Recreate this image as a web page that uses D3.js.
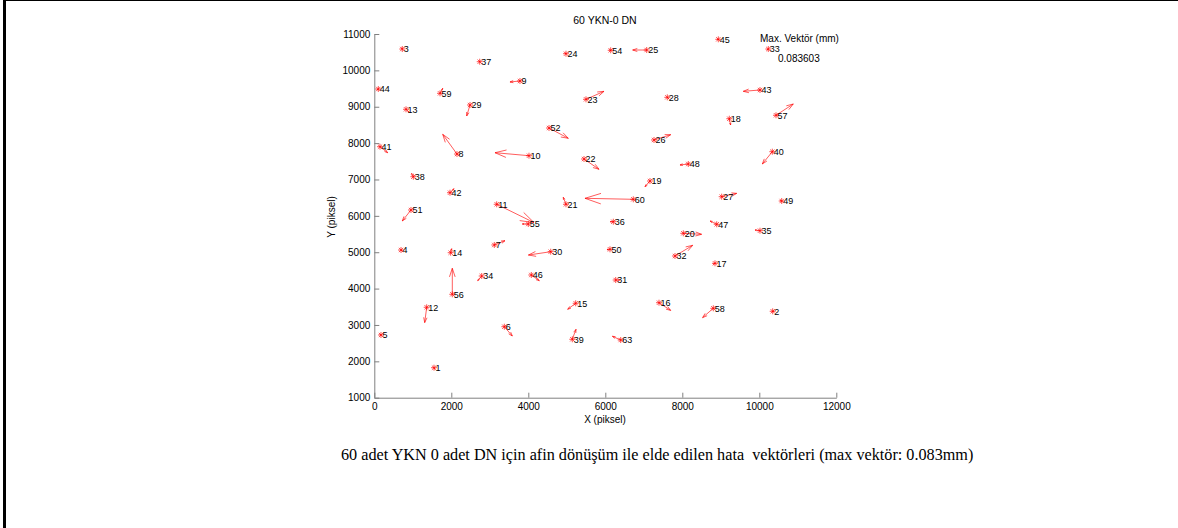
<!DOCTYPE html>
<html lang="en">
<head>
<meta charset="utf-8">
<title>60 YKN-0 DN</title>
<script src="https://cdnjs.cloudflare.com/ajax/libs/d3/7.8.5/d3.min.js"></script>
<style>
  body { margin: 0; background: #fff; }
  svg text { font-family: "Liberation Sans", Arial, sans-serif; }
</style>
</head>
<body>
<div id="chart"></div>
<script>
// point numbers, positions (piksel) and error vectors (drawn in plot units)
var ptId = [1,2,3,4,5,6,7,8,9,10,11,12,13,14,15,16,17,18,19,20,21,22,23,24,25,26,27,28,29,30,
            31,32,33,34,35,36,37,38,39,40,41,42,43,44,45,46,47,48,49,50,51,52,54,55,56,57,58,59,60,63];
var ptX = [1551,10348,727,694,174,3377,3117,2148,3784,4018,3179,1361,824,1984,5231,7395,8849,9221,7161,8026,
           4979,5447,5499,4979,7075,7265,9023,7610,2486,4582,6270,7810,10234,2790,10018,6208,2738,1013,5143,10338,
           148,1966,10018,104,8935,4078,8894,8156,10582,6122,953,4538,6140,4000,2026,10434,8805,1707,6727,6400];
var ptY = [1825,3376,10587,5061,2724,2952,5199,7700,9708,7654,6318,3486,8930,4987,3596,3612,4695,8671,6958,5520,
           6318,7563,9204,10458,10560,8086,6527,9259,9048,5014,4236,4896,10587,4346,5592,5839,10238,7076,2606,7764,
           7901,6636,9460,9488,10854,4374,5768,7426,6408,5080,6161,8415,10552,5776,3843,8765,3458,9369,6455,2586];
var vecU = [20,30,-20,30,-30,208,278,-371,-260,-883,969,-52,78,26,-208,304,-40,34,-130,475,
            -70,390,468,-30,-364,434,390,30,-86,-579,104,460,-30,-104,-130,-78,-20,-44,96,-260,
            200,104,-434,-30,-30,208,-174,-216,-40,-78,-226,501,-30,-156,0,449,-278,70,-1255,-216];
var vecV = [-40,0,30,-20,20,-256,118,542,-27,82,-503,-421,-82,110,-165,-212,-20,-173,-157,-27,
            192,-283,220,20,0,146,91,-30,-302,-91,0,294,-20,-129,19,0,20,91,275,-338,
            -165,110,-36,-20,0,-157,91,-27,10,-10,-302,-283,10,0,715,311,-256,137,27,102];

var xTicks = [0,2000,4000,6000,8000,10000,12000];
var yTicks = [1000,2000,3000,4000,5000,6000,7000,8000,9000,10000,11000];

var W = 1178, H = 528;
var svg = d3.select("#chart").append("svg")
    .attr("width", W).attr("height", H);

// outer frame (top and left edges only)
svg.append("line").attr("x1", 3).attr("x2", W).attr("y1", 0.5).attr("y2", 0.5)
    .attr("stroke", "#000").attr("stroke-width", 1);
svg.append("line").attr("x1", 4.5).attr("x2", 4.5).attr("y1", 0).attr("y2", H)
    .attr("stroke", "#000").attr("stroke-width", 3);

var x = d3.scaleLinear().domain([0, 12000]).range([374.3, 836.3]);
var y = d3.scaleLinear().domain([1000, 11000]).range([397.7, 34]);

// axes
var xAxis = d3.axisBottom(x).tickValues(xTicks).tickFormat(d3.format("d"))
    .tickSizeInner(-5).tickSizeOuter(0).tickPadding(8);
var yAxis = d3.axisLeft(y).tickValues(yTicks).tickFormat(d3.format("d"))
    .tickSizeInner(-5).tickSizeOuter(0).tickPadding(8);

var gx = svg.append("g").attr("transform", "translate(0," + y(1000) + ")").call(xAxis);
var gy = svg.append("g").attr("transform", "translate(" + x(0) + ",0)").call(yAxis);
[gx, gy].forEach(function(g) {
    g.select(".domain").attr("stroke", "#808080");
    g.selectAll(".tick line").attr("stroke", "#808080");
    g.selectAll(".tick text").attr("fill", "#000").style("font-size", "10px");
});
gy.selectAll(".tick text").attr("x", -4);
gx.selectAll(".tick text").attr("y", 5);

// titles
svg.append("text").attr("x", 605).attr("y", 24).attr("text-anchor", "middle")
    .style("font-size", "10.5px").text("60 YKN-0 DN");
svg.append("text").attr("x", 605).attr("y", 423).attr("text-anchor", "middle")
    .style("font-size", "10px").text("X (piksel)");
svg.append("text").attr("transform", "translate(335,217) rotate(-90)").attr("text-anchor", "middle")
    .style("font-size", "10px").text("Y (piksel)");
svg.append("text").attr("x", 760).attr("y", 42)
    .style("font-size", "10px").text("Max. Vektör (mm)");
svg.append("text").attr("x", 778).attr("y", 62)
    .style("font-size", "10px").text("0.083603");

var pts = ptId.map(function(id, i) {
    return { id: id, x: ptX[i], y: ptY[i], u: vecU[i], v: vecV[i] };
});

// error vectors with arrow heads
var red = "#ff0000";
var vec = svg.append("g").attr("stroke", red).attr("stroke-width", 0.8).attr("fill", "none")
    .attr("stroke-opacity", 0.8);
pts.forEach(function(d) {
    var x0 = x(d.x), y0 = y(d.y), x1 = x(d.x + d.u), y1 = y(d.y + d.v);
    var dx = x1 - x0, dy = y1 - y0;
    vec.append("line").attr("x1", x0).attr("y1", y0).attr("x2", x1).attr("y2", y1);
    var a = 0.33, b = 0.33;
    vec.append("polyline").attr("points", [
        [x1 - a * (dx + b * dy), y1 - a * (dy - b * dx)],
        [x1, y1],
        [x1 - a * (dx - b * dy), y1 - a * (dy + b * dx)]
    ].map(function(p) { return p.join(","); }).join(" "));
});

// asterisk markers
var r = 3;
var mk = svg.append("g").attr("stroke", red).attr("stroke-width", 0.8).attr("stroke-opacity", 0.85);
pts.forEach(function(d) {
    var cx = x(d.x), cy = y(d.y), q = r * 0.72;
    mk.append("path").attr("d",
        "M" + (cx - r) + "," + cy + "H" + (cx + r) +
        "M" + cx + "," + (cy - r) + "V" + (cy + r) +
        "M" + (cx - q) + "," + (cy - q) + "L" + (cx + q) + "," + (cy + q) +
        "M" + (cx - q) + "," + (cy + q) + "L" + (cx + q) + "," + (cy - q));
});

// point numbers
svg.append("g").selectAll("text").data(pts).enter().append("text")
    .attr("x", function(d) { return x(d.x) + 1.5; })
    .attr("y", function(d) { return y(d.y) + 3.3; })
    .style("font-size", "9px")
    .attr("fill", "#000")
    .text(function(d) { return d.id; });

// caption
svg.append("text").attr("x", 341).attr("y", 460)
    .style("font-size", "16.2px").style("font-family", "'Liberation Serif', 'Times New Roman', serif")
    .attr("xml:space", "preserve")
    .text("60 adet YKN 0 adet DN için afin dönüşüm ile elde edilen hata  vektörleri (max vektör: 0.083mm)");
</script>
</body>
</html>
